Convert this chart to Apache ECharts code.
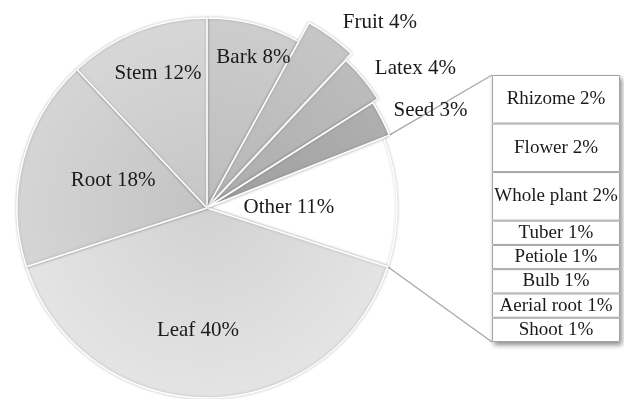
<!DOCTYPE html>
<html>
<head>
<meta charset="utf-8">
<script src="https://cdn.jsdelivr.net/npm/echarts@6/dist/echarts.min.js"></script>
<style>
  html, body { margin: 0; padding: 0; background: #fff; }
  #chart { width: 624px; height: 399px; }
</style>
</head>
<body>
<div id="chart"></div>
<script>
// Plant parts used (share of reports, %), clockwise from 12 o'clock
const categories = ['Bark', 'Fruit', 'Latex', 'Seed', 'Other', 'Leaf', 'Root', 'Stem'];
const shares = [8, 4, 4, 3, 11, 40, 18, 12];

// Breakdown of the "Other" slice, top to bottom
const otherParts = ['Rhizome', 'Flower', 'Whole plant', 'Tuber', 'Petiole', 'Bulb', 'Aerial root', 'Shoot'];
const otherShares = [2, 2, 2, 1, 1, 1, 1, 1];

// Slices pulled out of the pie
const explodedParts = ['Fruit', 'Latex', 'Seed'];

// ---- layout & style ----
const CX = 207, CY = 208, R = 190;
const FONT = '"Liberation Serif", "Times New Roman", serif';
const TEXT = '#1a1a1a';

const tones = {
  Bark:  ['#bcbcbc', '#cdcdcd'],
  Fruit: ['#b6b6b6', '#c6c6c6'],
  Latex: ['#acacac', '#bcbcbc'],
  Seed:  ['#9e9e9e', '#afafaf'],
  Other: ['#ffffff', '#ffffff'],
  Leaf:  ['#d2d2d2', '#e4e4e4'],
  Root:  ['#c3c3c3', '#d5d5d5'],
  Stem:  ['#c6c6c6', '#d7d7d7']
};

// label nudges from the default in-slice anchor
const labelNudge = {
  Bark: [22, -56], Stem: [-13, -43], Root: [1, -3], Leaf: [-9, 24], Other: [-16, 3],
  Fruit: [108, -96], Latex: [127, -72], Seed: [133, -51]
};

// exploded slice geometry: outer radius and centre shift
const explodeGeom = {
  Fruit: { r: 208, dx: 2, dy: -3 },
  Latex: { r: 200, dx: 2, dy: -2 },
  Seed:  { r: 195, dx: 1, dy: -1 }
};

function fillFor(name, cx, cy, r) {
  const t = tones[name];
  return new echarts.graphic.RadialGradient(cx, cy, r, [
    { offset: 0, color: t[0] },
    { offset: 1, color: t[1] }
  ], true);
}

const labelStyle = {
  fontFamily: FONT, fontSize: 21, color: TEXT
};

function pieData(visible, cx, cy, r) {
  return categories.map((name, i) => {
    const show = visible(name);
    return {
      name: name,
      value: shares[i],
      itemStyle: show ? {
        color: fillFor(name, cx, cy, r),
        borderColor: '#ffffff',
        borderWidth: 1.5
      } : { color: 'rgba(0,0,0,0)', borderWidth: 0, shadowBlur: 0 },
      label: show ? Object.assign({
        show: true, position: 'inside', offset: labelNudge[name],
        formatter: '{b} {c}%'
      }, labelStyle) : { show: false }
    };
  });
}

const series = [];

// main pie
series.push({
  type: 'pie',
  center: [CX, CY],
  radius: R,
  startAngle: 90,
  clockwise: true,
  avoidLabelOverlap: false,
  silent: true,
  labelLine: { show: false },
  itemStyle: { shadowBlur: 3, shadowColor: 'rgba(0,0,0,0.22)' },
  data: pieData(n => explodedParts.indexOf(n) < 0, CX, CY, R)
});

// exploded slices, each drawn on its own ring
explodedParts.forEach(part => {
  const g = explodeGeom[part];
  series.push({
    type: 'pie',
    center: [CX + g.dx, CY + g.dy],
    radius: g.r,
    startAngle: 90,
    clockwise: true,
    avoidLabelOverlap: false,
    silent: true,
    labelLine: { show: false },
    itemStyle: { shadowBlur: 3, shadowColor: 'rgba(0,0,0,0.22)' },
    data: pieData(n => n === part, CX + g.dx, CY + g.dy, g.r)
  });
});

// stacked column for the "Other" breakdown
const BOX = { left: 492, top: 75, width: 128, height: 267 };
const otherTotal = otherShares.reduce((a, b) => a + b, 0);

// backing column carrying the drop shadow of the whole stack
series.push({
  type: 'bar',
  barWidth: '100%',
  barGap: '-100%',
  silent: true,
  z: 1,
  data: [otherTotal],
  itemStyle: {
    color: '#ffffff',
    shadowBlur: 5,
    shadowOffsetX: 2,
    shadowOffsetY: 3,
    shadowColor: 'rgba(0,0,0,0.45)'
  },
  label: { show: false }
});

otherParts.forEach((part, i) => {
  series.push({
    type: 'bar',
    stack: 'other',
    barWidth: '100%',
    barGap: '-100%',
    silent: true,
    z: 2,
    name: part,
    data: [otherShares[i]],
    itemStyle: {
      color: '#ffffff',
      borderColor: '#a3a3a3',
      borderWidth: 1
    },
    label: {
      show: true,
      position: 'inside',
      formatter: part + ' ' + otherShares[i] + '%',
      fontFamily: FONT, fontSize: 19, color: TEXT
    }
  });
});

// connector lines from the "Other" slice edges to the column
function slicePoint(cumShare, r) {
  const a = cumShare / 100 * Math.PI * 2; // clockwise from 12 o'clock
  return [CX + r * Math.sin(a), CY - r * Math.cos(a)];
}
const otherIdx = categories.indexOf('Other');
const otherStart = shares.slice(0, otherIdx).reduce((a, b) => a + b, 0);
const otherEnd = otherStart + shares[otherIdx];
const pTop = slicePoint(otherStart, R + 2);
const pBot = slicePoint(otherEnd, R);

const chart = echarts.init(document.getElementById('chart'), null, { renderer: 'canvas' });
chart.setOption({
  backgroundColor: '#ffffff',
  animation: false,
  grid: { left: BOX.left, top: BOX.top, width: BOX.width, height: BOX.height },
  xAxis: { type: 'category', data: ['Other'], show: false },
  yAxis: { type: 'value', min: 0, max: otherTotal, inverse: true, show: false },
  series: series,
  graphic: [
    {
      type: 'polyline', silent: true, z: 0,
      shape: { points: [pTop, [BOX.left, BOX.top]] },
      style: { stroke: '#a8a8a8', lineWidth: 1.3, fill: null }
    },
    {
      type: 'polyline', silent: true, z: 0,
      shape: { points: [pBot, [BOX.left, BOX.top + BOX.height]] },
      style: { stroke: '#a8a8a8', lineWidth: 1.3, fill: null }
    }
  ]
});
</script>
</body>
</html>
